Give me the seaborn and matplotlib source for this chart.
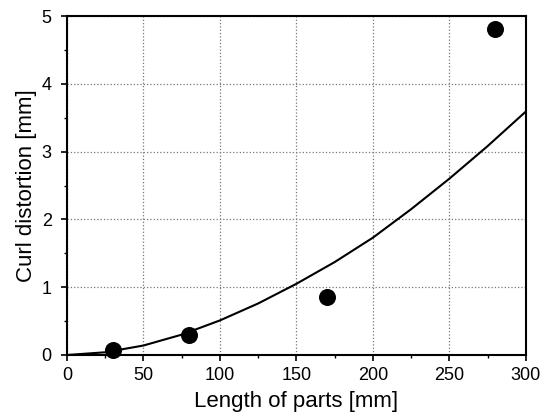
import matplotlib
matplotlib.use("Agg")
import matplotlib.pyplot as plt
import seaborn as sns
import pandas as pd
from matplotlib.ticker import MultipleLocator

# measured points
length_mm = [30, 80, 170, 280]
curl_mm = [0.07, 0.30, 0.86, 4.81]

# fitted curve
fit_x = [0, 25, 50, 75, 100, 125, 150, 175, 200, 225, 250, 275, 300]
fit_y = [0.0, 0.04, 0.14, 0.30, 0.51, 0.76, 1.05, 1.37, 1.73, 2.15, 2.60, 3.08, 3.59]

x_ticks = [0, 50, 100, 150, 200, 250, 300]
y_ticks = [0, 1, 2, 3, 4, 5]

sns.set_theme(style="white")
plt.rcParams['font.family'] = ['Liberation Sans', 'DejaVu Sans']

fig = plt.figure(figsize=(5.54, 4.15), dpi=100)
ax = fig.add_axes([0.121, 0.1446, 0.828, 0.8168])

pts = pd.DataFrame({"x": length_mm, "y": curl_mm})
fit = pd.DataFrame({"x": fit_x, "y": fit_y})

sns.lineplot(data=fit, x="x", y="y", ax=ax, color="black", linewidth=1.5, zorder=3)
sns.scatterplot(data=pts, x="x", y="y", ax=ax, color="black", s=150, edgecolor="black",
                linewidth=0, zorder=4, clip_on=False)

ax.set_xlim(0, 300)
ax.set_ylim(0, 5)
ax.set_xticks(x_ticks)
ax.set_yticks(y_ticks)
ax.xaxis.set_minor_locator(MultipleLocator(25))
ax.yaxis.set_minor_locator(MultipleLocator(0.5))
ax.grid(True, which="major", linestyle=":", color="#777777", linewidth=0.9)
ax.tick_params(which="major", direction="out", length=4, width=1.2, colors="black",
               labelsize=13, bottom=True, left=True)
ax.tick_params(axis="x", which="major", pad=5)
ax.tick_params(axis="y", which="major", pad=7)
ax.tick_params(which="minor", direction="out", length=2.5, width=1.0, colors="black",
               bottom=True, left=True)
for sp in ax.spines.values():
    sp.set_color("black")
    sp.set_linewidth(1.5)

ax.set_xlabel("Length of parts [mm]", fontsize=16, color="black", labelpad=5)
ax.set_ylabel("Curl distortion [mm]", fontsize=16, color="black", labelpad=3)

fig.savefig("out.png", dpi=100)
